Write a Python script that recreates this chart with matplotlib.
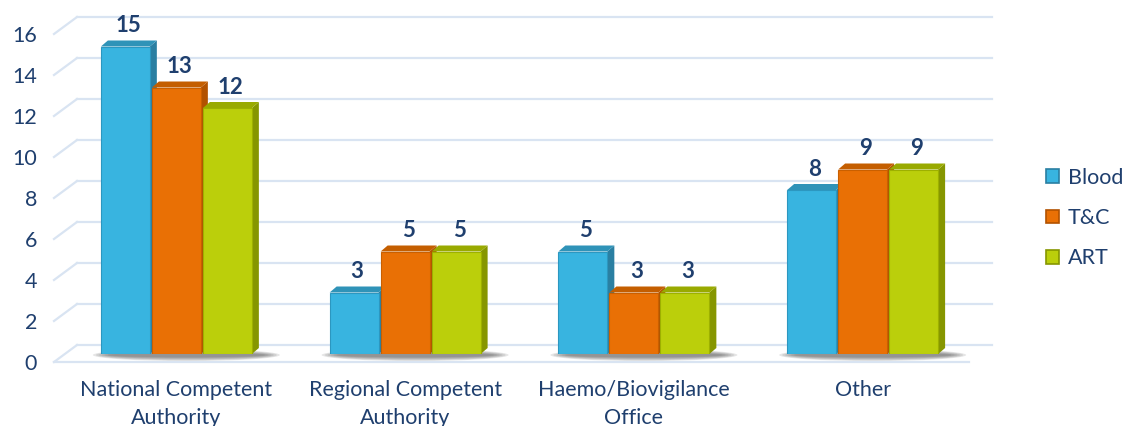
import numpy as np
import matplotlib.pyplot as plt
from matplotlib.patches import Polygon, Patch, Ellipse
from matplotlib.transforms import ScaledTranslation

categories = ['National Competent\nAuthority', 'Regional Competent\nAuthority',
              'Haemo/Biovigilance\nOffice', 'Other']
series = ['Blood', 'T&C', 'ART']
blood = [15, 3, 5, 8]
tc = [13, 5, 3, 9]
art = [12, 5, 3, 9]
values = [blood, tc, art]
yticks = list(range(0, 17, 2))

front = ['#38B4E0', '#E97005', '#BBCF0B']
side = ['#2A7FA2', '#B25200', '#869600']
top = ['#2F93B8', '#C45E00', '#99AA00']
edge = ['#2C97C0', '#C95F00', '#9DB000']
text_col = '#1F3F6E'
grid_col = '#D9E4F2'

plt.rcParams['font.family'] = ['Lato', 'DejaVu Sans']

fig = plt.figure(figsize=(11.25, 4.26), dpi=100)
ax = fig.add_axes([62 / 1125, 72 / 426, 915 / 1125, 328 / 426])
ax.set_xlim(-0.5, 3.5)
ax.set_ylim(0, 16)
for s in ax.spines.values():
    s.set_visible(False)

# size of one pixel in data units
px = 4 / 915
py = 16 / 328

# back wall gridlines and their diagonals to the front edge
for v in yticks:
    ax.plot([-0.5 + 15 * px, 3.5 + 15 * px], [v + 9 * py, v + 9 * py],
            color=grid_col, lw=1.6, zorder=0, clip_on=False)
    ax.plot([-0.5 - 8 * px, -0.5 + 15 * px], [v - 8 * py, v + 9 * py],
            color=grid_col, lw=1.6, zorder=0, clip_on=False)
# front edge of the floor
ax.plot([-0.5 - 8 * px, 3.5 - 8 * px], [-8 * py, -8 * py],
        color=grid_col, lw=1.6, zorder=0, clip_on=False)

x = np.arange(len(categories))
step = 0.223
w = 0.214
dx, dy = 7 * px, 6 * py

# soft shadow under each group
for xc in x:
    for k in range(6):
        ax.add_patch(Ellipse((xc + 10 * px, -1 * py), 3 * step + (34 - 6 * k) * px,
                             (12 - 1.5 * k) * py, color='#444444', alpha=0.13,
                             lw=0, zorder=1, clip_on=False))

z = 2
for j in range(len(categories)):
    for i, vals in enumerate(values):
        h = vals[j]
        xc = x[j] + (i - 1) * step
        xl, xr = xc - w / 2, xc + w / 2
        ax.add_patch(Polygon([(xr, 0), (xr, h), (xr + dx, h + dy), (xr + dx, dy)],
                             closed=True, facecolor=side[i], edgecolor='none', zorder=z))
        ax.add_patch(Polygon([(xl, h), (xr, h), (xr + dx, h + dy), (xl + dx, h + dy)],
                             closed=True, facecolor=top[i], edgecolor='none', zorder=z))
        ax.bar(xc, h, width=w, color=front[i], edgecolor=edge[i], lw=0.8, zorder=z + 1)
        ax.annotate(str(h), (xc, h), xytext=(3, 21), textcoords='offset pixels',
                    ha='center', va='center', fontsize=16, fontweight='bold',
                    color=text_col, zorder=10)
        z += 2

ax.set_yticks(yticks)
ax.set_xticks(x)
ax.set_xticklabels(categories, linespacing=1.45)
ax.tick_params(axis='y', length=0, pad=18, labelsize=15.5, colors=text_col)
ax.tick_params(axis='x', length=0, pad=19, labelsize=15.5, colors=text_col)
for lab in ax.get_yticklabels():
    lab.set_transform(lab.get_transform() + ScaledTranslation(0, -8 / 100, fig.dpi_scale_trans))

handles = [Patch(facecolor=front[i], edgecolor=side[i], lw=1.2, label=series[i])
           for i in range(len(series))]
fig.legend(handles=handles, loc='center left', bbox_to_anchor=(1046 / 1125, 1 - 218 / 426),
           bbox_transform=fig.transFigure, frameon=False, fontsize=15.5,
           handlelength=0.6, handleheight=0.6, handletextpad=0.4,
           labelspacing=0.95, borderpad=0, borderaxespad=0, labelcolor=text_col)

fig.savefig('out.png', dpi=100)
